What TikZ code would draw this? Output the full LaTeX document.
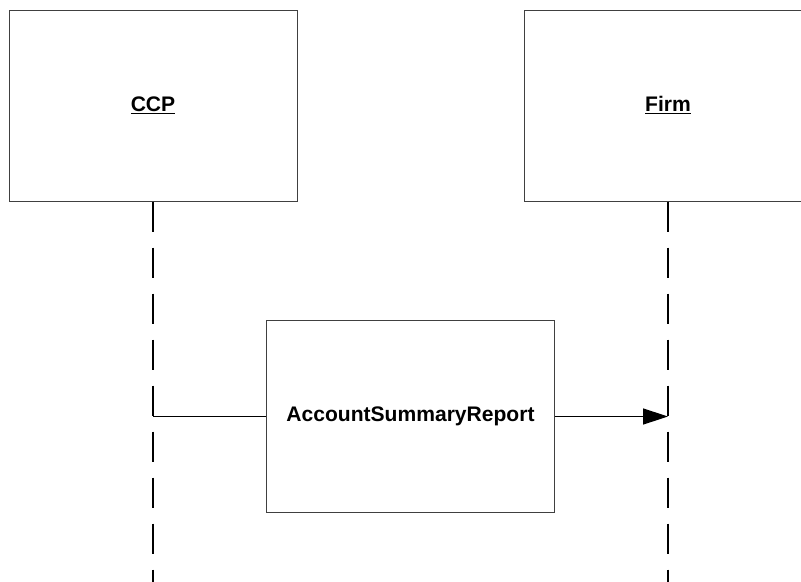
\documentclass[tikz,border=0pt]{standalone}
\usepackage{fontspec}
\setmainfont{Liberation Sans}
\usetikzlibrary{arrows.meta}
\usetikzlibrary{positioning}

\tikzset{
  objbox/.style={draw=black!75,line width=0.75pt,minimum width=216pt,minimum height=143.25pt,inner sep=0pt,font=\fontsize{15.8}{19}\selectfont\bfseries},
  lifeline/.style={black,line width=1.5pt,dash pattern=on 22.5pt off 12pt},
  msgline/.style={black,line width=1.1pt},
}

\begin{document}
\begin{tikzpicture}[x=0.75pt,y=-0.75pt]
\clip (0,0) rectangle (801,582);
\node[objbox] (ccp) at (153,105.5) {\underline{CCP}};
\node[objbox] (firm) at (668,105.5) {\underline{Firm}};
\node[objbox,minimum height=144pt] (report) at (410.5,416.5) {AccountSummaryReport};
\coordinate (ccpend) at (153,582);
\coordinate (firmend) at (668,582);
\draw[lifeline] (ccp.south) -- (ccpend);
\draw[lifeline] (firm.south) -- (firmend);
\draw[msgline] (ccp.south |- report.west) -- (report.west);
\draw[msgline,-{Triangle[length=18.75pt,width=12pt]}] (report.east) -- (firm.south |- report.east);
\end{tikzpicture}
\end{document}
